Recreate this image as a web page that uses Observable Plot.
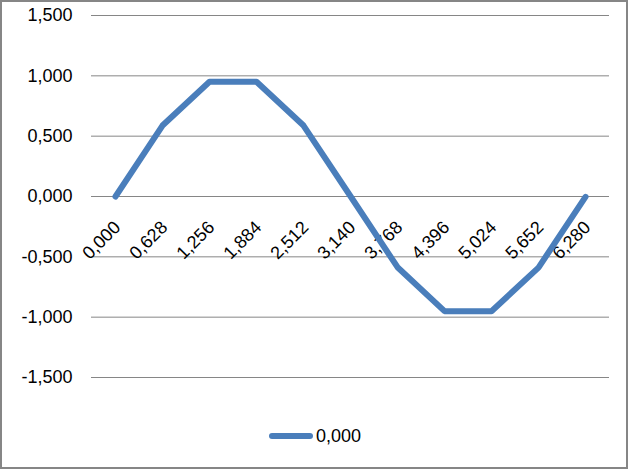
<!DOCTYPE html>
<html>
<head>
<meta charset="utf-8">
<script src="https://cdn.jsdelivr.net/npm/d3@7"></script>
<script src="https://cdn.jsdelivr.net/npm/@observablehq/plot@0.6"></script>
<style>
  html, body { margin: 0; padding: 0; background: #fff; }
  #wrap { position: relative; width: 628px; height: 469px; overflow: hidden; font-family: "Liberation Sans", Arial, sans-serif; }
  #chart { position: absolute; left: 0; top: 0; }
  #border { position: absolute; left: 0; top: 0; width: 628px; height: 469px; box-sizing: border-box; border: 2px solid #868686; pointer-events: none; }
  #legend { position: absolute; left: 269px; top: 424px; height: 24px; display: flex; align-items: center; font-size: 18px; color: #000; }
  #legend .swatch { width: 44px; height: 6px; border-radius: 3px; background: #4a7ebb; margin-right: 3px; }
</style>
</head>
<body>
<div id="wrap">
  <div id="chart"></div>
  <div id="legend"><span class="swatch"></span><span>0,000</span></div>
  <div id="border"></div>
</div>
<script>
const categories = ["0,000","0,628","1,256","1,884","2,512","3,140","3,768","4,396","5,024","5,652","6,280"];
const values = [0.000, 0.588, 0.951, 0.951, 0.588, 0.002, -0.586, -0.950, -0.951, -0.589, -0.003];
const yTicks = [-1.5, -1.0, -0.5, 0, 0.5, 1.0, 1.5];
const seriesName = "0,000";

const data = categories.map((c, i) => ({cat: c, value: values[i]}));
const fmt = v => v.toFixed(3).replace(".", ",").replace("\u2212", "-");

const plot = Plot.plot({
  width: 628,
  height: 400,
  marginLeft: 91,
  marginRight: 19,
  marginTop: 15,
  marginBottom: 23,
  style: {fontFamily: "'Liberation Sans', Arial, sans-serif", fontSize: "18px", color: "#000", background: "transparent"},
  x: {type: "point", domain: categories, padding: 0.5, axis: null},
  y: {domain: [-1.5, 1.5], axis: null},
  marks: [
    Plot.ruleY(yTicks, {stroke: "#868686", strokeWidth: 1, strokeOpacity: 1}),
    Plot.axisY({ticks: yTicks, tickFormat: fmt, tickSize: 0, tickPadding: 19, fontSize: 18, label: null}),
    Plot.text(data, {x: "cat", y: () => 0, text: "cat", rotate: -45, textAnchor: "end", lineAnchor: "bottom", dx: 6, dy: 32, fontSize: 18, fill: "#000"}),
    Plot.line(data, {x: "cat", y: "value", stroke: "#4a7ebb", strokeWidth: 6, strokeLinecap: "round", strokeLinejoin: "round"})
  ]
});
document.getElementById("chart").appendChild(plot);
</script>
</body>
</html>
